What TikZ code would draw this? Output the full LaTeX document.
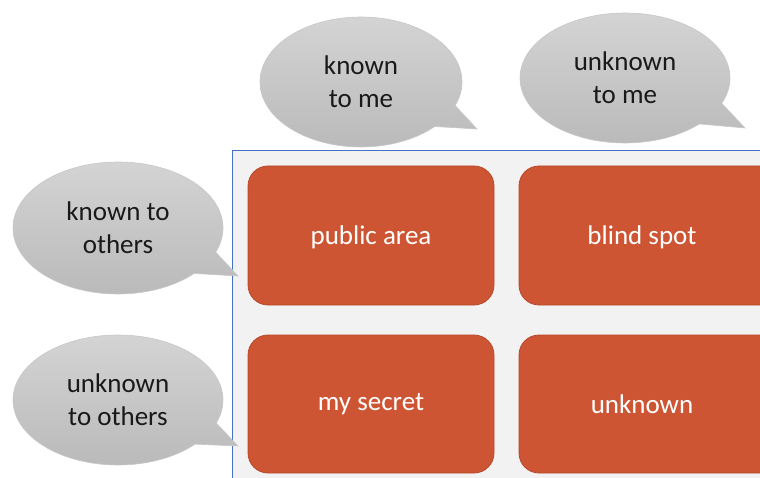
\documentclass[tikz,border=0pt]{standalone}
\usepackage{fontspec}
\setmainfont{Carlito}
\usetikzlibrary{shapes.callouts}
\definecolor{quad}{HTML}{CD5533}
\definecolor{quadline}{HTML}{B8482A}
\definecolor{framefill}{HTML}{F2F2F2}
\definecolor{frameline}{HTML}{4472C4}
\tikzset{
  quadbox/.style={draw=quadline, line width=0.8pt, fill=quad, rounded corners=20pt,
    text=white, font=\fontsize{27}{33}\selectfont},
  quadtext/.style={text=white, font=\fontsize{27}{33}\selectfont},
  bubble/.style={ellipse callout, draw=black!22, line width=0.6pt,
    top color=black!17, bottom color=black!27, callout pointer arc=22,
    inner sep=0pt, align=center, text=black!90,
    font=\fontsize{27}{33}\selectfont},
}
\begin{document}
\begin{tikzpicture}[x=1pt,y=-1pt]
\useasboundingbox (0,0) rectangle (760,478);
\clip (0,0) rectangle (760,478);
\draw[frameline, fill=framefill, line width=0.8pt] (232,150) rectangle (775,490);
\draw[quadbox] (248,166) rectangle (494,305);
\node[quadtext] (pub) at (371,237) {public area};
\draw[quadbox] (519,166) rectangle (790,305);
\node[quadtext] (blind) at (642,237) {blind spot};
\draw[quadbox] (248,335) rectangle (494,473);
\node[quadtext] (sec) at (371,404) {my secret};
\draw[quadbox] (519,335) rectangle (790,473);
\node[quadtext] (unk) at (642,404) {unknown};
\node[bubble, minimum width=202pt, minimum height=130pt, callout absolute pointer={(477,129)}] (kme) at (361,82) {known\\to me};
\node[bubble, minimum width=210pt, minimum height=130pt, callout absolute pointer={(745,128)}] (ume) at (625,78) {unknown\\to me};
\node[bubble, minimum width=210pt, minimum height=132pt, callout absolute pointer={(238,276)}] (kot) at (118,228) {known to\\others};
\node[bubble, minimum width=210pt, minimum height=130pt, callout absolute pointer={(238,446)}] (uot) at (118,400) {unknown\\to others};
\end{tikzpicture}
\end{document}
